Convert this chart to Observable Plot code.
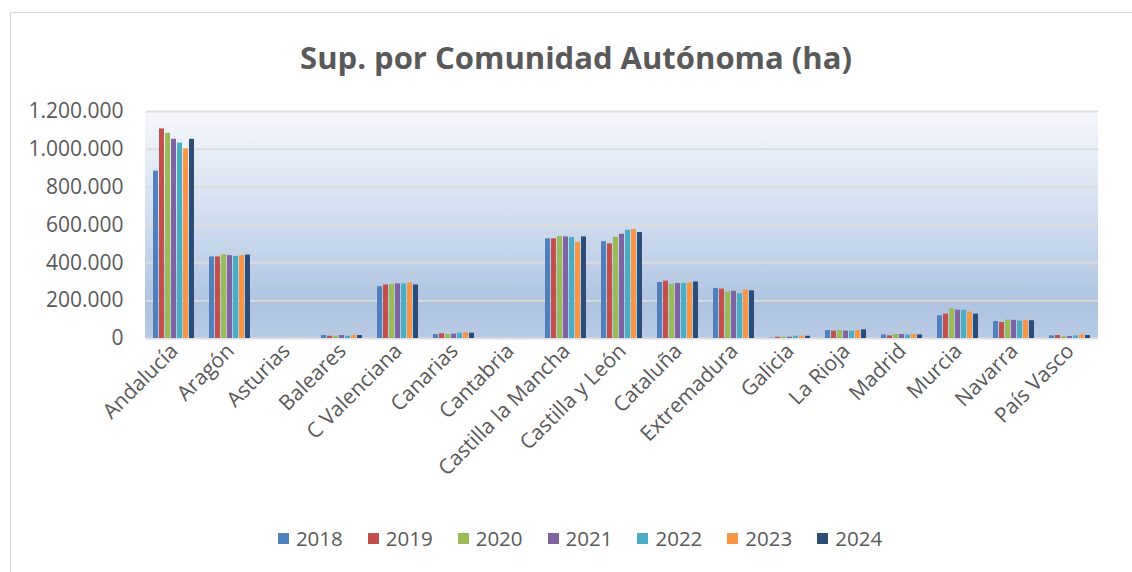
<!DOCTYPE html>
<html>
<head>
<meta charset="utf-8">
<script src="https://cdn.jsdelivr.net/npm/d3@7"></script>
<script src="https://cdn.jsdelivr.net/npm/@observablehq/plot@0.6"></script>
<style>
  html, body { margin: 0; padding: 0; background: #fff; }
  #wrap { position: relative; width: 1132px; height: 572px; overflow: hidden; font-family: "Open Sans", sans-serif; }
  #frame { position: absolute; left: 10px; top: 12px; width: 1140px; height: 580px; border: 1px solid #d9d9d9; box-sizing: border-box; }
  #title { position: absolute; left: 0; top: 36px; width: 1152px; text-align: center; font-size: 31px; font-weight: 700; color: #595959; }
  #bg { position: absolute; left: 145px; top: 111px; width: 953px; height: 227px;
        background: linear-gradient(to bottom, #f6f8fc 0%, #d3dff0 45%, #afc4e0 85%, #b9cbe4 100%); }
  #chart { position: absolute; left: 0; top: 0; }
  #legend { position: absolute; left: 0; top: 524px; width: 1160px; display: flex; justify-content: center; gap: 25px; font-size: 20.5px; color: #595959; }
  #legend span.item { display: inline-flex; align-items: center; }
  #legend span.sw { display: inline-block; width: 11px; height: 11px; margin-right: 7px; }
</style>
</head>
<body>
<div id="wrap">
  <div id="frame"></div>
  <div id="title">Sup. por Comunidad Autónoma (ha)</div>
  <div id="bg"></div>
  <div id="chart"></div>
  <div id="legend"></div>
</div>
<script>
const regions = ["Andalucía", "Aragón", "Asturias", "Baleares", "C Valenciana", "Canarias", "Cantabria",
  "Castilla la Mancha", "Castilla y León", "Cataluña", "Extremadura", "Galicia", "La Rioja", "Madrid",
  "Murcia", "Navarra", "País Vasco"];
const years = ["2018", "2019", "2020", "2021", "2022", "2023", "2024"];
const colors = ["#4F81BD", "#C0504D", "#9BBB59", "#8064A2", "#4BACC6", "#F79646", "#2C4D75"];

const v2018 = [885000, 431000, 0, 16000, 274000, 21000, 0, 527000, 512000, 296000, 264000, 2000, 42000, 19000, 120000, 90000, 14000];
const v2019 = [1108000, 431000, 0, 12000, 283000, 25000, 0, 527000, 500000, 303000, 261000, 7000, 39000, 14000, 129000, 85000, 16000];
const v2020 = [1085000, 443000, 0, 12000, 285000, 21000, 0, 539000, 535000, 287000, 246000, 7000, 42000, 21000, 157000, 97000, 9000];
const v2021 = [1053000, 438000, 0, 16000, 289000, 23000, 0, 537000, 551000, 291000, 250000, 7000, 39000, 21000, 150000, 96000, 10000];
const v2022 = [1033000, 434000, 0, 12000, 289000, 28000, 0, 534000, 572000, 291000, 237000, 12000, 39000, 19000, 149000, 92000, 14000];
const v2023 = [1002000, 438000, 0, 16000, 294000, 30000, 0, 509000, 576000, 294000, 257000, 12000, 42000, 21000, 140000, 96000, 19000];
const v2024 = [1053000, 441000, 0, 16000, 283000, 28000, 0, 537000, 560000, 299000, 252000, 12000, 46000, 19000, 129000, 94000, 16000];
const yTicks = [0, 200000, 400000, 600000, 800000, 1000000, 1200000];

const series = [v2018, v2019, v2020, v2021, v2022, v2023, v2024];
const data = regions.flatMap((r, i) => years.map((y, j) => ({region: r, year: y, value: series[j][i]})));

const fmt = d3.formatLocale({decimal: ",", thousands: ".", grouping: [3], currency: ["", "€"]}).format(",");

const chart = Plot.plot({
  width: 1132,
  height: 510,
  marginTop: 111,
  marginLeft: 145,
  marginRight: 34,
  marginBottom: 172,
  style: {background: "transparent", fontFamily: "Open Sans, sans-serif", fontSize: "21px", color: "#595959"},
  fx: {domain: regions, padding: 0, label: null, axis: "bottom", tickRotate: -45, tickSize: 0, tickPadding: 9},
  x: {domain: years, axis: null, paddingInner: 0.15, paddingOuter: 0.8},
  y: {domain: [0, 1200000], ticks: yTicks, tickFormat: fmt, label: null, tickSize: 0, tickPadding: 23, grid: false},
  color: {domain: years, range: colors},
  marks: [
    Plot.gridY(yTicks, {stroke: "#dcdcdc", strokeOpacity: 1, strokeWidth: 2}),
    Plot.barY(data, {fx: "region", x: "year", y: "value", fill: "year"}),
    Plot.axisY(yTicks, {tickFormat: fmt, tickSize: 0, tickPadding: 23, fontSize: 21, label: null})
  ]
});
document.getElementById("chart").appendChild(chart);

const legend = document.getElementById("legend");
years.forEach((y, i) => {
  const item = document.createElement("span");
  item.className = "item";
  item.innerHTML = `<span class="sw" style="background:${colors[i]}"></span>${y}`;
  legend.appendChild(item);
});
</script>
</body>
</html>
